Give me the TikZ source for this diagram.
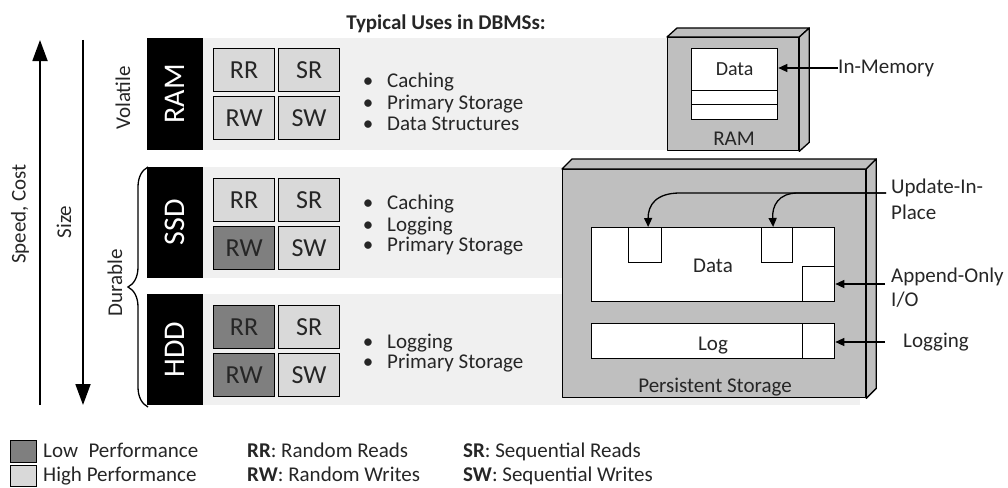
\documentclass[tikz,border=0pt]{standalone}
\usepackage{fontspec}
\setmainfont{Carlito}
\usetikzlibrary{arrows.meta,decorations.pathreplacing,calc}
\definecolor{bandc}{HTML}{F0F0F0}
\definecolor{lightc}{HTML}{D9D9D9}
\definecolor{darkc}{HTML}{7F7F7F}
\definecolor{devc}{HTML}{BFBFBF}
\definecolor{txt}{HTML}{262626}
\newcommand\myfs[1]{\fontsize{#1}{#1}\selectfont}
\begin{document}
\begin{tikzpicture}[x=1pt,y=-1pt,
  bandbox/.style={fill=bandc, draw=none, anchor=north west, inner sep=0pt, minimum height=112pt},
  cellbox/.style={draw=black, line width=1.2pt, anchor=north west, minimum width=61pt, minimum height=43pt, inner sep=0pt, font=\myfs{26}, text=txt},
  lo/.style={fill=lightc},
  hi/.style={fill=darkc},
  tier/.style={fill=black, text=white, rotate=90, minimum width=112pt, minimum height=56pt, inner sep=0pt, font=\myfs{30}},
  utxt/.style={anchor=base west, inner sep=0pt, font=\myfs{21}, text=txt},
  ctxt/.style={anchor=base, inner sep=0pt, font=\myfs{21}, text=txt},
  bul/.style={anchor=base, inner sep=0pt, font=\myfs{21}, text=txt},
  rtxt/.style={rotate=90, inner sep=0pt, font=\myfs{21}, text=txt},
  face/.style={fill=devc, draw=black, line width=1.3pt, line join=round},
  wbox/.style={fill=white, draw=black, line width=1.3pt, anchor=north west, inner sep=0pt},
  arr/.style={-{Triangle[length=9pt,width=8pt]}, line width=1.3pt},
  bigarr/.style={-{Triangle[length=21pt,width=15pt]}, line width=1.8pt}
]
\useasboundingbox (0,0) rectangle (1008,487);
\clip (0,0) rectangle (1008,487);

% title
\node[ctxt, font=\myfs{21}\bfseries] (title) at (446,30) {Typical Uses in DBMSs:};

% bands
\node[bandbox, minimum width=464pt] (ramband) at (203,38) {};
\node[bandbox, minimum width=657pt, minimum height=111pt] (ssdband) at (203,167) {};
\node[bandbox, minimum width=657pt, minimum height=111pt] (hddband) at (203,294) {};

% tiers
\node[tier] (ram) at (175,94) {RAM};
\node[tier, minimum width=111pt] (ssd) at (175,222.5) {SSD};
\node[tier, minimum width=111pt] (hdd) at (175,349.5) {HDD};

% cells RAM
\node[cellbox, lo] (ramRR) at (213,48) {RR};
\node[cellbox, lo] (ramSR) at (278,48) {SR};
\node[cellbox, lo] (ramRW) at (213,96) {RW};
\node[cellbox, lo] (ramSW) at (278,96) {SW};
% cells SSD
\node[cellbox, lo] (ssdRR) at (213,178) {RR};
\node[cellbox, lo] (ssdSR) at (278,178) {SR};
\node[cellbox, hi] (ssdRW) at (213,226) {RW};
\node[cellbox, lo] (ssdSW) at (278,226) {SW};
% cells HDD
\node[cellbox, hi] (hddRR) at (213,305) {RR};
\node[cellbox, lo] (hddSR) at (278,305) {SR};
\node[cellbox, hi] (hddRW) at (213,353) {RW};
\node[cellbox, lo] (hddSW) at (278,353) {SW};

% bullet lists
\node[bul] (rb1) at (368,87) {•};
\node[utxt] (ru1) at (387,87) {Caching};
\node[bul] (rb2) at (368,109) {•};
\node[utxt] (ru2) at (387,109) {Primary Storage};
\node[bul] (rb3) at (368,130) {•};
\node[utxt] (ru3) at (387,130) {Data Structures};

\node[bul] (sb1) at (368,209) {•};
\node[utxt] (su1) at (387,209) {Caching};
\node[bul] (sb2) at (368,231) {•};
\node[utxt] (su2) at (387,231) {Logging};
\node[bul] (sb3) at (368,251) {•};
\node[utxt] (su3) at (387,251) {Primary Storage};

\node[bul] (hb1) at (368,348) {•};
\node[utxt] (hu1) at (387,348) {Logging};
\node[bul] (hb2) at (368,368) {•};
\node[utxt] (hu2) at (387,368) {Primary Storage};

% left arrows and labels
\coordinate (spBot) at (40,405);
\coordinate (spTop) at (40,40);
\draw[bigarr] (spBot) -- (spTop);
\coordinate (szTop) at (83,40);
\coordinate (szBot) at (83,405);
\draw[bigarr] (szTop) -- (szBot);
\node[rtxt] (speed) at (20,214) {Speed, Cost};
\node[rtxt] (size) at (64,222) {Size};
\node[rtxt] (volatile) at (123,98) {Volatile};
\node[rtxt] (durable) at (115,283) {Durable};
\coordinate (brB) at (148,407);
\coordinate (brT) at (148,167);
\draw[line width=1.3pt, decorate, decoration={brace, amplitude=20pt}] (brB) -- (brT);

% RAM device
\node[face, anchor=north west, minimum width=131pt, minimum height=113pt, inner sep=0pt] (ramdev) at (667,37) {};
\draw[face] (ramdev.north west) -- ++(10,-9) -- ([shift={(10,-9)}]ramdev.north east) -- (ramdev.north east) -- cycle;
\draw[face] (ramdev.north east) -- ++(10,-9) -- ([shift={(10,-9)}]ramdev.south east) -- (ramdev.south east) -- cycle;
\node[wbox, minimum width=86pt, minimum height=42pt, font=\myfs{20}, text=txt] (ramdata) at (691,48) {Data};
\node[wbox, minimum width=86pt, minimum height=14pt] (ramslot1) at (691,90) {};
\node[wbox, minimum width=86pt, minimum height=15pt] (ramslot2) at (691,104) {};
\node[ctxt] (ramlbl) at (734,145) {RAM};
\node[anchor=west, inner sep=0pt, font=\myfs{21}, text=txt] (inmem) at (838,68) {In-Memory};
\draw[arr] (inmem.west) -- (inmem.west -| ramdata.east);

% Persistent device
\node[face, anchor=north west, minimum width=303pt, minimum height=228pt, inner sep=0pt] (pdev) at (562,169) {};
\draw[face] (pdev.north west) -- ++(10,-10) -- ([shift={(10,-10)}]pdev.north east) -- (pdev.north east) -- cycle;
\draw[face] (pdev.north east) -- ++(10,-10) -- ([shift={(10,-10)}]pdev.south east) -- (pdev.south east) -- cycle;
\node[wbox, minimum width=243pt, minimum height=74pt] (pdata) at (591,227) {};
\node[ctxt] (pdatalbl) at (713,272) {Data};
\node[wbox, minimum width=33pt, minimum height=35pt] (sq1) at (628,227) {};
\node[wbox, minimum width=31pt, minimum height=35pt] (sq2) at (761,227) {};
\node[wbox, minimum width=32pt, minimum height=35pt] (sq3) at (802,266) {};
\node[wbox, minimum width=243pt, minimum height=35pt] (plog) at (591,323) {};
\node[wbox, minimum width=32pt, minimum height=35pt] (plogend) at (802,323) {};
\node[ctxt] (ploglbl) at (713,350) {Log};
\node[ctxt] (pstlbl) at (715,392) {Persistent Storage};

% right labels and arrows
\node[anchor=west, align=left, inner sep=0pt, font=\fontsize{21}{26}\selectfont, text=txt] (upd) at (891,199) {Update-In-\\Place};
\coordinate (updc) at (886,193);
\draw[arr] (updc) -- (680,193) .. controls (656,193) and (648,205) .. ([xshift=3pt]sq1.north);
\draw[arr] (updc) -- (798,193) .. controls (778,193) and (772,206) .. ([xshift=-4pt]sq2.north);

\node[anchor=west, align=left, inner sep=0pt, font=\fontsize{21}{24}\selectfont, text=txt] (append) at (891,288) {Append-Only\\I/O};
\coordinate (appc) at (885,284);
\draw[arr] (appc) -- (appc -| sq3.east);

\node[anchor=west, inner sep=0pt, font=\myfs{21}, text=txt] (logging) at (903,342) {Logging};
\coordinate (logc) at (885,342);
\draw[arr] (logc) -- (logc -| plogend.east);

% legend
\node[fill=darkc, draw=black, line width=1.2pt, anchor=north west, minimum width=26pt, minimum height=22pt, inner sep=0pt] (lowsq) at (10,440) {};
\node[fill=lightc, draw=black, line width=1.2pt, anchor=north west, minimum width=26pt, minimum height=21pt, inner sep=0pt] (highsq) at (10,465) {};
\node[utxt] (lowt) at (43,457) {Low\hspace{0.5em}Performance};
\node[utxt] (hight) at (43,481) {High Performance};
\node[utxt] (rrt) at (247,457) {\textbf{RR}: Random Reads};
\node[utxt] (rwt) at (247,481) {\textbf{RW}: Random Writes};
\node[utxt] (srt) at (463,457) {\textbf{SR}: Sequential Reads};
\node[utxt] (swt) at (463,481) {\textbf{SW}: Sequential Writes};
\end{tikzpicture}
\end{document}
